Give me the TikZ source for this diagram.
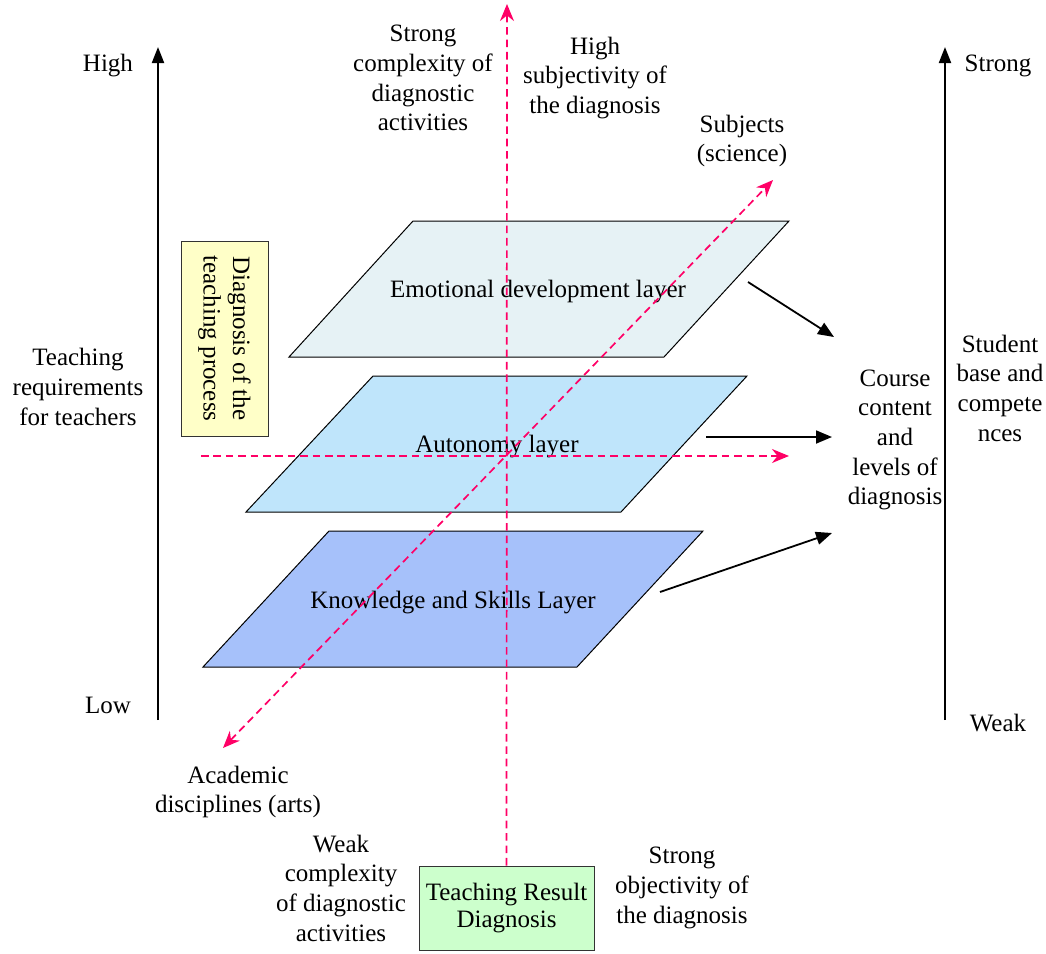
\documentclass[tikz,border=0pt]{standalone}
\usepackage{fontspec}
\setmainfont{Liberation Serif}
\usetikzlibrary{arrows.meta}
\definecolor{axispink}{RGB}{255,0,102}
\definecolor{emofill}{RGB}{230,242,245}
\definecolor{autofill}{RGB}{191,229,251}
\definecolor{knowfill}{RGB}{166,193,250}
\definecolor{notefill}{RGB}{255,255,200}
\definecolor{resultfill}{RGB}{204,255,204}
\tikzset{pinkhead/.tip={Stealth[length=8.5pt,width=7pt]}}
\begin{document}
\begin{tikzpicture}[x=0.5pt,y=-0.5pt,
  font=\fontsize{12.5}{14.85}\selectfont,
  txt/.style={align=center,inner sep=0pt,text=black,yshift=-1.5pt},
  layer/.style={draw=black,line width=0.5pt},
  axis/.style={line width=1pt,-{Triangle[length=8pt,width=6pt]}},
  flow/.style={line width=0.9pt,-{Triangle[length=8pt,width=6.5pt]}},
  pinkline/.style={axispink,line width=0.85pt,dash pattern=on 3.8pt off 2.4pt},
  box/.style={draw=black!80,line width=0.5pt,align=center,inner sep=0pt,text=black}]
\useasboundingbox (0,0) rectangle (1046,954);

% vertical axes
\coordinate (lbot) at (158,720); \coordinate (ltop) at (158,47);
\coordinate (rbot) at (945,720); \coordinate (rtop) at (945,47);
\draw[axis] (lbot) -- (ltop);
\draw[axis] (rbot) -- (rtop);
\node[txt] (high) at (108,63) {High};
\node[txt] (low) at (108,702) {Low};
\node[txt] (req) at (78,384) {Teaching\\requirements\\for teachers};
\node[txt] (strong) at (998,63) {Strong};
\node[txt] (weak) at (998,720) {Weak};
\node[txt] (base) at (1000,385) {Student\\base and\\compete\\nces};

% three diagnosis layers
\draw[layer,fill=emofill] (413,221) -- (789,221) -- (664,357) -- (289,357) -- cycle;
\draw[layer,fill=autofill] (373,376) -- (747,376) -- (621,512) -- (246,512) -- cycle;
\draw[layer,fill=knowfill] (329,531) -- (703,531) -- (577,667) -- (203,667) -- cycle;

% layer labels
\node[txt] (emo) at (538,289) {Emotional development layer};
\node[txt] (auto) at (497,444) {Autonomy layer};
\node[txt] (know) at (453,600) {Knowledge and Skills Layer};

% process note
\node[box,fill=notefill,rotate=-90,minimum width=97.5pt,minimum height=43.5pt]
  (proc) at (224.5,338.5) {Diagnosis of the\\teaching process};

% result box
\node[box,fill=resultfill,minimum width=87.5pt,minimum height=42pt]
  (result) at (506.5,908) {\raisebox{-1.5pt}{\shortstack{Teaching Result\\[-0.5pt]Diagnosis}}};

% dashed reference axes
\coordinate (vtop) at (507,4);
\draw[pinkline,-pinkhead] (result.north) -- (vtop);
\coordinate (dlo) at (223,748); \coordinate (dhi) at (773,180);
\draw[pinkline,pinkhead-pinkhead] (dlo) -- (dhi);
\coordinate (hl) at (201,456); \coordinate (hr) at (789,456);
\draw[pinkline,-pinkhead] (hl) -- (hr);

% course content target and arrows
\node[txt] (course) at (895,437) {Course\\content\\and\\levels of\\diagnosis};
\coordinate (a1) at (748,282); \coordinate (b1) at (834,337);
\coordinate (a2) at (706,437); \coordinate (b2) at (832,437);
\coordinate (a3) at (660,592); \coordinate (b3) at (832,533);
\draw[flow] (a1) -- (b1);
\draw[flow] (a2) -- (b2);
\draw[flow] (a3) -- (b3);

% axis annotations
\node[txt] (cplxhi) at (423,75) {Strong\\complexity of\\diagnostic\\activities};
\node[txt] (subj) at (595,75) {High\\subjectivity of\\the diagnosis};
\node[txt] (sci) at (742,138) {Subjects\\(science)};
\node[txt] (arts) at (238,789) {Academic\\disciplines (arts)};
\node[txt] (cplxlo) at (341,885) {Weak\\complexity\\of diagnostic\\activities};
\node[txt] (obj) at (682,885) {Strong\\objectivity of\\the diagnosis};
\end{tikzpicture}
\end{document}
